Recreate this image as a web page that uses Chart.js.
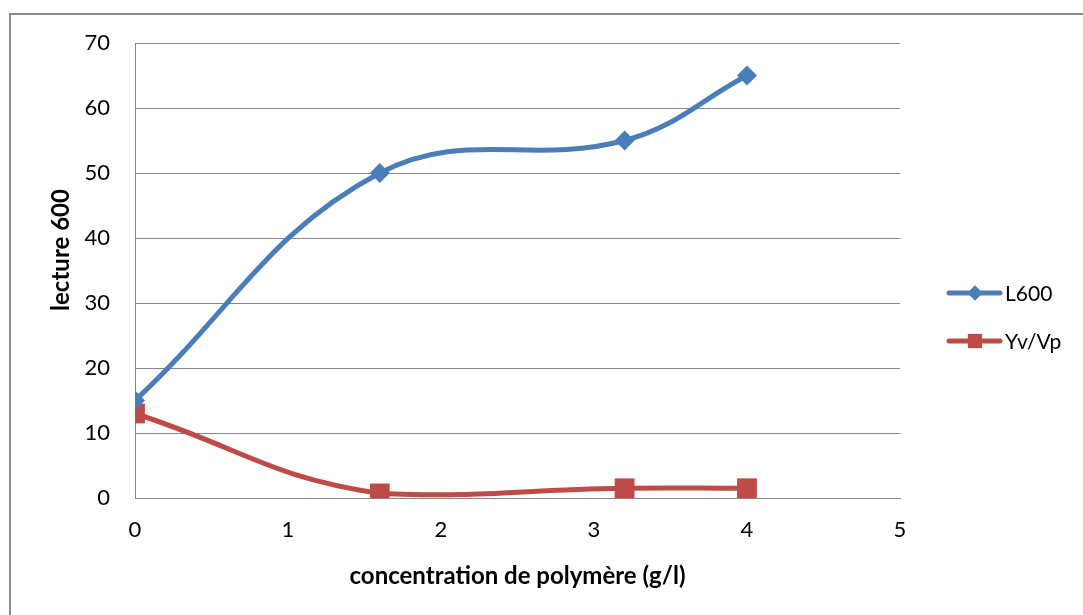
<!DOCTYPE html>
<html lang="fr">
<head>
<meta charset="UTF-8">
<title>lecture 600</title>
<style>
  html, body { margin: 0; padding: 0; background: #fff; overflow: hidden; }
  #cadre {
    position: absolute; left: 9px; top: 13px;
    width: 1200px; height: 700px;
    border: 2px solid #8c8c8c;
  }
  #grafico { position: absolute; left: 0; top: 0; }
</style>
</head>
<body>
<div id="cadre"></div>
<canvas id="grafico" width="1083" height="615"></canvas>

<script src="https://cdn.jsdelivr.net/npm/chart.js"></script>
<script>
// données
const concentration = [0, 1.6, 3.2, 4];
const l600 = [15, 50, 55, 65];
const yvVp = [13, 0.7, 1.5, 1.5];
const nomsSeries = ['L600', 'Yv/Vp'];
const ticksX = [0, 1, 2, 3, 4, 5];
const ticksY = [0, 10, 20, 30, 40, 50, 60, 70];
const titreX = 'concentration de polymère (g/l)';
const titreY = 'lecture 600';

const bleu = '#4a7ebb';
const rouge = '#be4b48';
const gris = '#868686';
const police = 'Lato, "Open Sans", sans-serif';

function points(xs, ys) {
  return xs.map((x, i) => ({ x: x, y: ys[i] }));
}

// légende + titre vertical dessinés à la main (placement comme dans Excel)
const legendeExcel = {
  id: 'legendeExcel',
  afterDraw(chart) {
    const ctx = chart.ctx;
    const items = [
      { y: 293, couleur: bleu, style: 'rectRot', r: 7.5 },
      { y: 341, couleur: rouge, style: 'rect', r: 10 }
    ];
    ctx.save();
    items.forEach((it, i) => {
      ctx.strokeStyle = it.couleur;
      ctx.lineWidth = 5;
      ctx.lineCap = 'round';
      ctx.beginPath();
      ctx.moveTo(949, it.y);
      ctx.lineTo(1000, it.y);
      ctx.stroke();
      ctx.fillStyle = it.couleur;
      Chart.helpers.drawPoint(ctx, { pointStyle: it.style, radius: it.r, borderWidth: 0 }, 975, it.y);
      ctx.fill();
      ctx.fillStyle = '#000';
      ctx.font = '21px ' + police;
      ctx.textBaseline = 'middle';
      ctx.textAlign = 'left';
      ctx.fillText(nomsSeries[i], 1005, it.y + 1);
    });

    // titre de l'axe Y
    ctx.translate(61, 250);
    ctx.rotate(-Math.PI / 2);
    ctx.fillStyle = '#000';
    ctx.font = 'bold 24px ' + police;
    ctx.textAlign = 'center';
    ctx.textBaseline = 'middle';
    ctx.fillText(titreY, 0, 0);
    ctx.restore();
  }
};

new Chart(document.getElementById('grafico'), {
  type: 'line',
  data: {
    datasets: [
      {
        label: nomsSeries[0],
        data: points(concentration, l600),
        borderColor: bleu,
        backgroundColor: bleu,
        borderWidth: 5,
        tension: 0.4,
        pointStyle: 'rectRot',
        pointRadius: 10,
        pointBorderWidth: 0
      },
      {
        label: nomsSeries[1],
        data: points(concentration, yvVp),
        borderColor: rouge,
        backgroundColor: rouge,
        borderWidth: 5,
        tension: 0.45,
        pointStyle: 'rect',
        pointRadius: 14,
        pointBorderWidth: 0
      }
    ]
  },
  options: {
    responsive: false,
    animation: false,
    layout: { padding: { left: 0, top: 43, right: 183, bottom: 0 } },
    plugins: {
      legend: { display: false },
      tooltip: { enabled: false }
    },
    scales: {
      x: {
        type: 'linear',
        min: 0,
        max: 5,
        afterBuildTicks: s => { s.ticks = ticksX.map(v => ({ value: v })); },
        afterFit: s => { s.height = 117; },
        grid: { display: false, drawTicks: false },
        border: { display: true, color: gris, width: 1 },
        ticks: { color: '#000', font: { family: police, size: 22 }, padding: 19 },
        title: {
          display: true,
          text: titreX,
          color: '#000',
          font: { family: police, size: 24, weight: 'bold' },
          padding: { top: 0, bottom: 24 }
        }
      },
      y: {
        min: 0,
        max: 70,
        afterBuildTicks: s => { s.ticks = ticksY.map(v => ({ value: v })); },
        afterFit: s => { s.width = 135; },
        grid: { color: gris, lineWidth: 1, drawTicks: false },
        border: { display: true, color: gris, width: 1 },
        ticks: { color: '#000', font: { family: police, size: 22 }, padding: 25 }
      }
    }
  },
  plugins: [legendeExcel]
});
</script>
</body>
</html>
